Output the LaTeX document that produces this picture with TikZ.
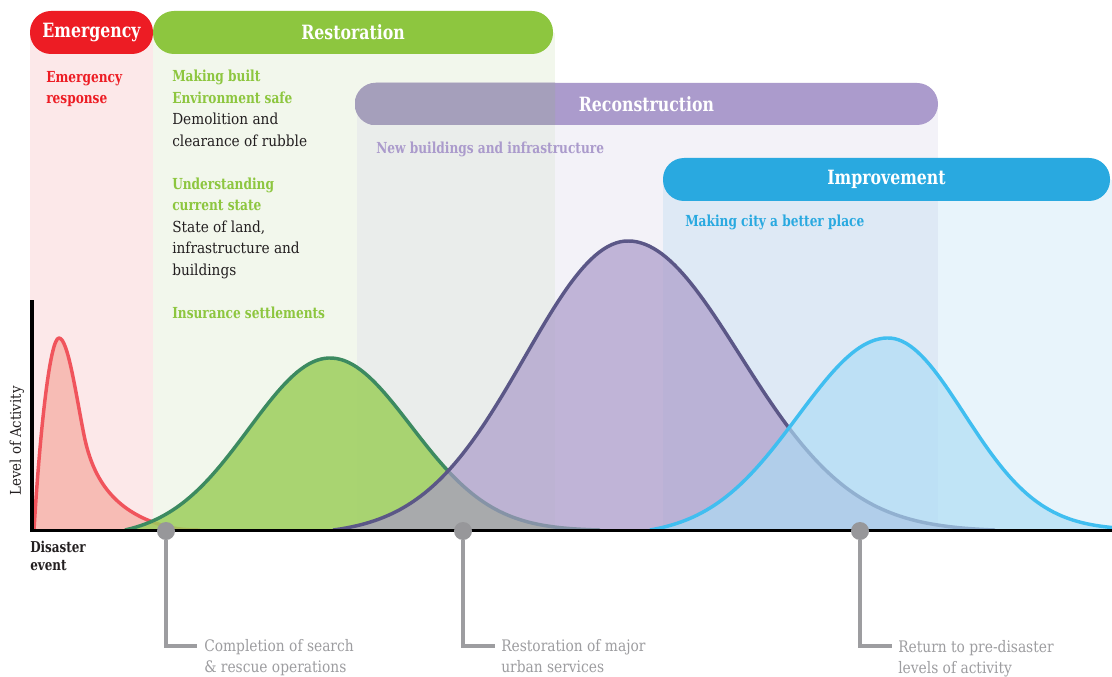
\documentclass[tikz,border=0pt]{standalone}
\usepackage{fontspec}
\setmainfont{DejaVu Serif}[UprightFeatures={FakeStretch=0.9},BoldFeatures={FakeStretch=0.8}]
\newfontfamily\milefont{DejaVu Serif}[FakeStretch=0.87]
\usetikzlibrary{positioning}

\definecolor{emgred}{RGB}{237,28,36}
\definecolor{rstgreen}{RGB}{141,198,63}
\definecolor{recpurple}{RGB}{171,155,204}
\definecolor{recdim}{RGB}{165,159,187}
\definecolor{impblue}{RGB}{41,169,224}
\definecolor{emgband}{RGB}{252,232,233}
\definecolor{rstband}{RGB}{242,247,236}
\definecolor{recband}{RGB}{218,215,235}
\definecolor{impband}{RGB}{140,200,235}
\definecolor{redfill}{RGB}{247,188,181}
\definecolor{redline}{RGB}{240,84,92}
\definecolor{greenfill}{RGB}{157,207,92}
\definecolor{greenline}{RGB}{60,138,96}
\definecolor{purplefill}{RGB}{169,152,200}
\definecolor{purpleline}{RGB}{91,87,135}
\definecolor{bluefill}{RGB}{173,221,245}
\definecolor{blueline}{RGB}{64,190,240}
\definecolor{txtdark}{RGB}{35,31,32}
\definecolor{dotgray}{RGB}{151,151,154}
\definecolor{leadgray}{RGB}{157,157,160}

\newcommand{\hdfont}{\fontsize{14.75}{16}\selectfont\bfseries}
\newcommand{\rgfont}{\fontsize{11.4}{16.1}\selectfont}
\newcommand{\bdfont}{\fontsize{11.4}{16.1}\selectfont\bfseries}
\newcommand{\grn}[1]{{\bdfont\color{rstgreen}#1}}
\newcommand{\drk}[1]{{\rgfont\color{txtdark}#1}}

\begin{document}
\begin{tikzpicture}[x=0.75pt,y=-0.75pt,
		pill/.style={rectangle,rounded corners=15.75pt,minimum height=32.25pt,inner sep=0pt,text=white,font=\hdfont},
		bell/.style={line width=2.6pt,line join=round},
		milestone/.style={circle,fill=dotgray,minimum size=13.5pt,inner sep=0pt},
		leader/.style={draw=leadgray,line width=3pt},
		milelabel/.style={anchor=base west,align=left,inner sep=0pt,text=leadgray,font={\milefont\fontsize{11.9}{15.6}\selectfont}},
		note/.style={anchor=base west,align=left,inner sep=0pt},
		declare function={rst(\x)=530-172*(exp(-((\x-330)/81)^2/2)-(\x<330?0.0406:0.0039))/(1-(\x<330?0.0406:0.0039));
			rec(\x)=530-289*(exp(-((\x-628)/(\x<628?103:112))^2/2)-(\x<628?0.0166:0.0047))/(1-(\x<628?0.0166:0.0047));
			imp(\x)=530-192*(exp(-((\x-888)/(\x<888?90:76))^2/2)-(\x<888?0.0303:0))/(1-(\x<888?0.0303:0));}]
		\useasboundingbox (0,0) rectangle (1112,677);
		\fill[white] (0,0) rectangle (1112,677);
		\fill[emgband] (30,33) rectangle (153,530);
		\fill[rstband] (153,33) rectangle (555,530);
		\fill[recband,opacity=0.3] (357,104) rectangle (938,530);
		\fill[impband,opacity=0.2] (663,180) rectangle (1112,530);

		\node[pill,fill=emgred,minimum width=92.25pt] (emg) at (91.5,32.5) {Emergency};
		\node[pill,fill=rstgreen,minimum width=300pt] (rst) at (353,32.5) {Restoration};
		\node[pill,fill=recpurple,minimum width=437.25pt,minimum height=31.5pt] (rec) at (646.5,104) {Reconstruction};
		\begin{scope}
			\clip (355,83) rectangle (555,125);
			\fill[recdim,rounded corners=15.75pt] (rec.north west) rectangle (rec.south east);
		\end{scope}
		\node[pill,fill=impblue,minimum width=335.25pt] (imp) at (886.5,179.5) {Improvement};

		\fill[redfill] (34,530) .. controls (40,430) and (50,338) .. (59,338) .. controls (68,338) and (76,395) .. (84,435) .. controls (92,475) and (110,505) .. (150,521) .. controls (170,529) and (185,530) .. (200,530) -- cycle;
		\draw[bell,redline] (34,530) .. controls (40,430) and (50,338) .. (59,338) .. controls (68,338) and (76,395) .. (84,435) .. controls (92,475) and (110,505) .. (150,521) .. controls (170,529) and (185,530) .. (200,530);
		\fill[greenfill,fill opacity=0.85] plot[domain=125:600,samples=120] (\x,{rst(\x)}) -- cycle;
		\draw[bell,greenline] plot[domain=125:600,samples=120] (\x,{rst(\x)});
		\fill[purplefill,fill opacity=0.68] plot[domain=333:995,samples=160] (\x,{rec(\x)}) -- cycle;
		\draw[bell,purpleline] plot[domain=333:995,samples=160] (\x,{rec(\x)});
		\fill[bluefill,fill opacity=0.67] (650,530) -- plot[domain=650:1112,samples=120] (\x,{imp(\x)}) -- (1112,530) -- cycle;
		\draw[bell,blueline] plot[domain=650:1112,samples=120] (\x,{imp(\x)});

		\draw[line width=2.6pt] (32,300) |- (1112,530.5);

		\node[milestone] (m1) at (166,531) {};
		\node[milestone] (m2) at (463,531) {};
		\node[milestone] (m3) at (860,531) {};
		\coordinate (k1) at (197,645.5);
		\coordinate (k2) at (495,645.5);
		\coordinate (k3) at (892,645.5);
		\draw[leader] (m1) |- (k1);
		\draw[leader] (m2) |- (k2);
		\draw[leader] (m3) |- (k3);
		\node[milelabel] (l1) at (204,672) {Completion of search\\\& rescue operations};
		\node[milelabel] (l2) at (501,672) {Restoration of major\\urban services};
		\node[milelabel] (l3) at (898,673) {Return to pre-disaster\\levels of activity};

		\node[note,text=emgred,font=\bdfont] (emgtxt) at (46,103.5) {Emergency\\response};
		\node[note,font=\rgfont] (rsttxt) at (172,318) {\grn{Making built}\\\grn{Environment safe}\\\drk{Demolition and}\\\drk{clearance of rubble}\\ \\\grn{Understanding}\\\grn{current state}\\\drk{State of land,}\\\drk{infrastructure and}\\\drk{buildings}\\ \\\grn{Insurance settlements}};
		\node[note,text=recpurple,font=\bdfont] (rectxt) at (376,154) {New buildings and infrastructure};
		\node[note,text=impblue,font=\bdfont] (imptxt) at (685,226) {Making city a better place};
		\node[rotate=90,text=txtdark,font={\fontsize{11.1}{13}\selectfont}] (yaxis) at (17,441) {Level of Activity};
		\node[note,text=txtdark,font={\fontsize{11.2}{13.5}\selectfont\bfseries}] (event) at (30,570) {Disaster\\event};
	\end{tikzpicture}
\end{document}
